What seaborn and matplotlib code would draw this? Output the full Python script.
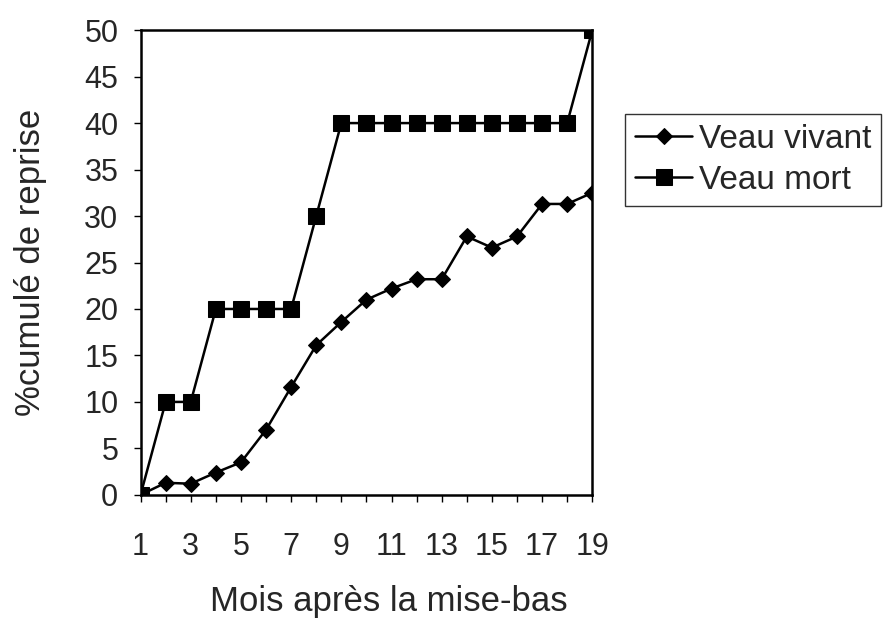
import numpy as np
import pandas as pd
import matplotlib
matplotlib.use("Agg")
import matplotlib.pyplot as plt
import seaborn as sns

mois = list(range(1, 20))
veau_vivant = [0, 1.3, 1.2, 2.4, 3.5, 7.0, 11.6, 16.1, 18.6, 21.0, 22.2, 23.2, 23.2,
               27.8, 26.6, 27.8, 31.3, 31.3, 32.5]
veau_mort = [0, 10, 10, 20, 20, 20, 20, 30, 40, 40, 40, 40, 40, 40, 40, 40, 40, 40, 50]
series_names = ["Veau vivant", "Veau mort"]
x_ticks = [1, 3, 5, 7, 9, 11, 13, 15, 17, 19]
y_ticks = list(range(0, 51, 5))

df = pd.DataFrame({
    "mois": mois * 2,
    "val": veau_vivant + veau_mort,
    "serie": [series_names[0]] * len(mois) + [series_names[1]] * len(mois),
})

sns.set_style("white")
plt.rcParams["font.family"] = ["Liberation Sans", "DejaVu Sans"]

fig = plt.figure(figsize=(8.84, 6.28), dpi=100)
ax = fig.add_axes([0.159, 0.212, 0.511, 0.740])

sns.lineplot(data=df, x="mois", y="val", hue="serie", style="serie",
             markers={"Veau vivant": "D", "Veau mort": "s"}, dashes=False,
             palette={"Veau vivant": "black", "Veau mort": "black"},
             markersize=11, linewidth=1.8, markeredgecolor="black", ax=ax)
for line in ax.get_lines():
    if line.get_marker() == "D":
        line.set_markersize(8.5)

ax.set_xlim(1, 19)
ax.set_ylim(0, 50)
ax.set_xticks(range(1, 20))
ax.set_xticklabels([str(m) if m in x_ticks else "" for m in range(1, 20)])
ax.set_yticks(y_ticks)
ax.tick_params(axis="both", labelsize=22, direction="out", length=5, width=1,
               color="black", bottom=True, left=True)
ax.tick_params(axis="x", pad=22)
ax.tick_params(axis="y", pad=11)
for s in ax.spines.values():
    s.set_color("black")
    s.set_linewidth(1.8)
ax.set_xlabel("Mois après la mise-bas", fontsize=25)
ax.set_ylabel("%cumulé de reprise", fontsize=25, labelpad=27)
ax.xaxis.set_label_coords(0.55, -0.195)

leg = ax.legend(loc="upper left", bbox_to_anchor=(1.073, 0.82), fontsize=24,
                frameon=True, fancybox=False, edgecolor="black",
                handlelength=1.7, handletextpad=0.2, borderpad=0.3,
                labelspacing=0.3, borderaxespad=0)
leg.get_frame().set_linewidth(1.0)

fig.savefig("out.png", dpi=100, facecolor="white")
